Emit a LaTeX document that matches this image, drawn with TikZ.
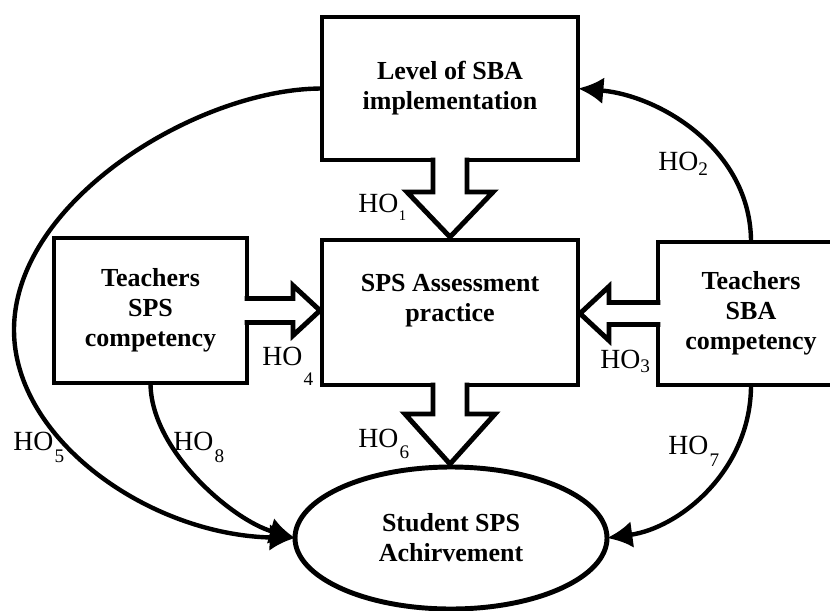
\documentclass[tikz,border=0pt]{standalone}
\usepackage{fontspec}
\setmainfont{Liberation Serif}
\usetikzlibrary{arrows.meta,shapes.geometric,calc}

% HO label with a lowered index: kern, drop, size, digit
\newcommand\hosub[4]{HO\kern#1\raisebox{-#2}{\fontsize{#3}{#3}\selectfont #4}}

\tikzset{
  boxline/.style={line width=3.7pt},
  box/.style={draw, boxline, rectangle, inner sep=0pt, outer sep=0pt,
    align=center, font=\bfseries\fontsize{19.5}{22.5}\selectfont},
  link/.style={line width=3.3pt, -{Latex[length=19pt,width=20pt]}},
  ho/.style={anchor=base west, inner sep=0pt, font=\fontsize{20.8}{24}\selectfont},
  % hollow block arrow along local x: length / shaft half width / head half width / head length
  pics/barrow/.style args={#1/#2/#3/#4}{code={
    \fill[white] (-3,-#2) -- ({#1-#4},-#2) -- ({#1-#4},-#3) -- (#1,0)
      -- ({#1-#4},#3) -- ({#1-#4},#2) -- (-3,#2) -- cycle;
    \draw[boxline, line join=miter] (-2.4,-#2) -- ({#1-#4},-#2) -- ({#1-#4},-#3)
      -- (#1,0) -- ({#1-#4},#3) -- ({#1-#4},#2) -- (-2.4,#2);
  }}
}

\begin{document}
\begin{tikzpicture}[x=0.75pt,y=-0.75pt]
  \useasboundingbox (0,0) rectangle (830,610);
  \clip (0,0) rectangle (830,610);

  % boxes
  \node[box, minimum width=192pt, minimum height=107.25pt] (sba) at (450,88.5)
    {Level of SBA\\implementation};
  \node[box, minimum width=192pt, minimum height=108.75pt] (sps) at (450,312.5)
    {SPS Assessment\\practice\\~};
  \node[box, minimum width=144.75pt, minimum height=108.75pt] (tsps) at (150.5,310.5)
    {Teachers\\SPS\\competency};
  \node[box, minimum width=139.5pt, minimum height=107.25pt] (tsba) at (751,313.5)
    {Teachers\\SBA\\competency};
  \node[ellipse, draw, boxline, minimum width=234pt, minimum height=106.5pt,
    inner sep=0pt, outer sep=0pt, align=center,
    font=\bfseries\fontsize{19.5}{22.5}\selectfont] (ach) at (451,538)
    {Student SPS\\Achirvement};

  % hollow block arrows
  \pic[rotate=-90] at (sba.south) {barrow=77/17/43/45};
  \pic[rotate=-90] at (sps.south) {barrow=79/17/45/50};
  \pic at (tsps.east) {barrow=73/12/25/27};
  \pic[rotate=180] at (tsba.west) {barrow=78/11/27/29};

  % curved links
  \coordinate (c5) at (14,330);
  \draw[link] (sba.west) .. controls +(-123,0) and +(0,-130) .. (c5)
    .. controls +(0,110) and +(-145,-3) .. (ach.west);
  \draw[link] (tsps.south) .. controls +(0,67) and +(-63,-18) .. (ach.west);
  \draw[link] (tsba.north) .. controls +(0,-92) and +(82,7) .. (sba.east);
  \draw[link] (tsba.south) .. controls +(0,85) and +(73,-10) .. (ach.east);

  % hypothesis labels
  \node[ho] (h1) at (358,212) {\hosub{0.5pt}{6pt}{11}{1}};
  \node[ho] (h2) at (658,170) {\hosub{0pt}{3.75pt}{14.4}{2}};
  \node[ho] (h3) at (600,368) {\hosub{0pt}{3pt}{14.4}{3}};
  \node[ho] (h4) at (262,365) {\hosub{1pt}{15pt}{14.4}{4}};
  \node[ho] (h5) at (13,450) {\hosub{1pt}{9pt}{14.4}{5}};
  \node[ho] (h6) at (358,447) {\hosub{1pt}{8.5pt}{14.4}{6}};
  \node[ho] (h7) at (668,454) {\hosub{1pt}{9pt}{14.4}{7}};
  \node[ho] (h8) at (173,450) {\hosub{1pt}{9pt}{14.4}{8}};
\end{tikzpicture}
\end{document}
